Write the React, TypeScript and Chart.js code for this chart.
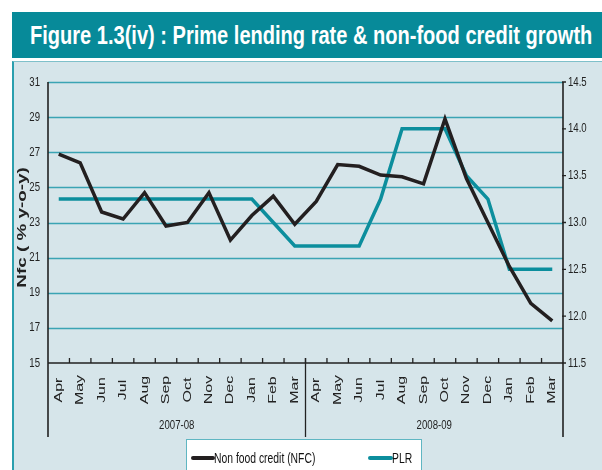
import React, { useEffect, useRef } from "react";
import { Chart, registerables } from "chart.js";

Chart.register(...registerables);

const categories = [
  "Apr", "May", "Jun", "Jul", "Aug", "Sep", "Oct", "Nov", "Dec", "Jan", "Feb", "Mar",
  "Apr", "May", "Jun", "Jul", "Aug", "Sep", "Oct", "Nov", "Dec", "Jan", "Feb", "Mar",
];
const groupLabels = ["2007-08", "2008-09"];
const nfcValues = [
  26.9, 26.4, 23.6, 23.2, 24.7, 22.8, 23.0, 24.7, 22.0, 23.4, 24.5, 22.9,
  24.2, 26.3, 26.2, 25.7, 25.6, 25.2, 28.9, 25.5, 23.0, 20.5, 18.4, 17.4,
];
const plrValues = [
  13.25, 13.25, 13.25, 13.25, 13.25, 13.25, 13.25, 13.25, 13.25, 13.25, 13.0, 12.75,
  12.75, 12.75, 12.75, 13.25, 14.0, 14.0, 14.0, 13.5, 13.25, 12.5, 12.5, 12.5,
];
const leftTicks = [15, 17, 19, 21, 23, 25, 27, 29, 31];
const rightTicks = ["11.5", "12.0", "12.5", "13.0", "13.5", "14.0", "14.5"];
const seriesNames = ["Non food credit (NFC)", "PLR"];
const titleText = "Figure 1.3(iv) : Prime lending rate & non-food credit growth";
const yTitle = "Nfc ( % y-o-y)";

const BLACK = "#231f20";
const TEAL = "#0c8e9d";
const GRID = "#3aa4b4";
const ARIAL = '"Liberation Sans", Arial, sans-serif';
const NARROW_SX = 0.74;

function narrowText(ctx: any, text: string, px: number, py: number, align: string) {
  ctx.save();
  ctx.translate(px, py);
  ctx.scale(NARROW_SX, 1);
  ctx.textAlign = align;
  ctx.fillText(text, 0, 0);
  ctx.restore();
}

const decorPlugin = {
  id: "decor",
  beforeDatasetsDraw(chart: any) {
    const ctx = chart.ctx;
    const { left, right } = chart.chartArea;
    const y = chart.scales.y;
    ctx.save();
    ctx.strokeStyle = GRID;
    ctx.lineWidth = 1.5;
    leftTicks.forEach((v) => {
      if (v === leftTicks[0]) return;
      const py = Math.round(y.getPixelForValue(v)) + 0.5;
      ctx.beginPath();
      ctx.moveTo(left, py);
      ctx.lineTo(right, py);
      ctx.stroke();
    });
    ctx.restore();
  },
  afterDraw(chart: any) {
    const ctx = chart.ctx;
    const { left, right, top, bottom } = chart.chartArea;
    const x = chart.scales.x;
    const y = chart.scales.y;
    const y1 = chart.scales.y1;
    const groupBottom = bottom + 74;
    ctx.save();
    ctx.strokeStyle = "#222";
    ctx.lineWidth = 1.6;
    ctx.beginPath();
    ctx.moveTo(left, bottom);
    ctx.lineTo(right, bottom);
    ctx.moveTo(left, top);
    ctx.lineTo(left, groupBottom);
    ctx.moveTo(right, top);
    ctx.lineTo(right, groupBottom);
    ctx.stroke();
    ctx.lineWidth = 1.3;
    ctx.beginPath();
    for (let i = 1; i < categories.length; i++) {
      const bx = (x.getPixelForValue(i - 1) + x.getPixelForValue(i)) / 2;
      ctx.moveTo(bx, bottom - 5);
      ctx.lineTo(bx, bottom);
    }
    ctx.stroke();
    const perGroup = categories.length / groupLabels.length;
    ctx.beginPath();
    for (let g = 1; g < groupLabels.length; g++) {
      const i = g * perGroup;
      const bx = (x.getPixelForValue(i - 1) + x.getPixelForValue(i)) / 2;
      ctx.moveTo(bx, bottom - 5);
      ctx.lineTo(bx, groupBottom);
    }
    ctx.stroke();
    ctx.beginPath();
    rightTicks.forEach((t) => {
      const py = y1.getPixelForValue(parseFloat(t));
      ctx.moveTo(right - 1, py);
      ctx.lineTo(right + 3, py);
    });
    ctx.stroke();

    ctx.fillStyle = "#222";
    ctx.font = `13px ${ARIAL}`;
    ctx.textBaseline = "middle";
    leftTicks.forEach((v) => {
      narrowText(ctx, String(v), left - 8, y.getPixelForValue(v), "right");
    });
    rightTicks.forEach((t) => {
      narrowText(ctx, t, right + 5, y1.getPixelForValue(parseFloat(t)), "left");
    });

    ctx.font = `11px ${ARIAL}`;
    ctx.textAlign = "center";
    ctx.textBaseline = "middle";
    categories.forEach((c, i) => {
      ctx.save();
      ctx.translate(x.getPixelForValue(i), bottom + 27);
      ctx.rotate(-Math.PI / 2);
      ctx.scale(1.45, 1);
      ctx.fillText(c, 0, 0);
      ctx.restore();
    });

    ctx.font = `13px ${ARIAL}`;
    groupLabels.forEach((g, gi) => {
      const a = x.getPixelForValue(gi * perGroup);
      const b = x.getPixelForValue((gi + 1) * perGroup - 1);
      narrowText(ctx, g, (a + b) / 2, bottom + 62, "center");
    });

    ctx.save();
    ctx.font = `bold 13px ${ARIAL}`;
    ctx.textAlign = "center";
    ctx.translate(22, (top + bottom) / 2 + 5);
    ctx.rotate(-Math.PI / 2);
    ctx.scale(1.45, 1);
    ctx.fillText(yTitle, 0, 0);
    ctx.restore();

    const lx = 186, ly = 439, lw = 235, lh = 40;
    ctx.fillStyle = "#ffffff";
    ctx.fillRect(lx, ly, lw, lh);
    ctx.strokeStyle = "#5fb6c2";
    ctx.lineWidth = 1;
    ctx.strokeRect(lx + 0.5, ly + 0.5, lw, lh);
    const my = 458;
    ctx.lineWidth = 4;
    ctx.lineCap = "round";
    ctx.strokeStyle = BLACK;
    ctx.beginPath();
    ctx.moveTo(193, my);
    ctx.lineTo(213, my);
    ctx.stroke();
    ctx.strokeStyle = TEAL;
    ctx.beginPath();
    ctx.moveTo(370, my);
    ctx.lineTo(391, my);
    ctx.stroke();
    ctx.fillStyle = "#111";
    ctx.font = `14px ${ARIAL}`;
    ctx.textBaseline = "middle";
    narrowText(ctx, seriesNames[0], 214, my + 1, "left");
    narrowText(ctx, seriesNames[1], 392, my + 1, "left");
    ctx.restore();
  },
};

export default function App() {
  const ref = useRef<HTMLCanvasElement>(null);
  const titleRef = useRef<HTMLSpanElement>(null);
  useEffect(() => {
    document.body.style.margin = "0";
    const span = titleRef.current;
    if (span) {
      const w = span.offsetWidth;
      if (w > 0) span.style.transform = `scaleX(${562 / w})`;
    }
    const chart = new Chart(ref.current as HTMLCanvasElement, {
      type: "line",
      data: {
        labels: categories,
        datasets: [
          {
            label: seriesNames[0],
            data: nfcValues,
            yAxisID: "y",
            borderColor: BLACK,
            borderWidth: 3.5,
            pointRadius: 0,
            tension: 0,
            borderJoinStyle: "miter",
          },
          {
            label: seriesNames[1],
            data: plrValues,
            yAxisID: "y1",
            borderColor: TEAL,
            borderWidth: 3.5,
            pointRadius: 0,
            tension: 0,
            borderJoinStyle: "miter",
          },
        ],
      },
      options: {
        responsive: false,
        animation: false,
        layout: { padding: { left: 48, top: 82, right: 39, bottom: 107 } },
        plugins: { legend: { display: false }, tooltip: { enabled: false } },
        scales: {
          x: { type: "category", offset: true, display: false },
          y: { type: "linear", min: 15, max: 31, display: false },
          y1: { type: "linear", min: 11.5, max: 14.5, display: false, position: "right" },
        },
      },
      plugins: [decorPlugin],
    });
    return () => chart.destroy();
  }, []);

  return (
    <div style={{ position: "fixed", left: 0, top: 0, width: 602, height: 470, background: "#ffffff", overflow: "hidden" }}>
      <div
        style={{
          position: "absolute",
          left: 12,
          top: 12,
          width: 590,
          height: 46,
          background: "#078a99",
          color: "#ffffff",
          fontFamily: ARIAL,
          fontWeight: "bold",
          fontSize: 25,
          lineHeight: "46px",
          boxSizing: "border-box",
          whiteSpace: "nowrap",
          overflow: "hidden",
        }}
      >
        <span
          ref={titleRef}
          style={{ position: "absolute", left: 18, top: 0, display: "inline-block", transformOrigin: "left center" }}
        >
          {titleText}
        </span>
      </div>
      <div
        style={{
          position: "absolute",
          left: 12,
          top: 61,
          width: 590,
          height: 409,
          background: "#d6e5ea",
          borderLeft: "2px solid #2a9fae",
          borderTop: "1px solid #7fc0ca",
          boxSizing: "border-box",
        }}
      />
      <canvas ref={ref} width={602} height={470} style={{ position: "absolute", left: 0, top: 0, display: "block" }} />
    </div>
  );
}
